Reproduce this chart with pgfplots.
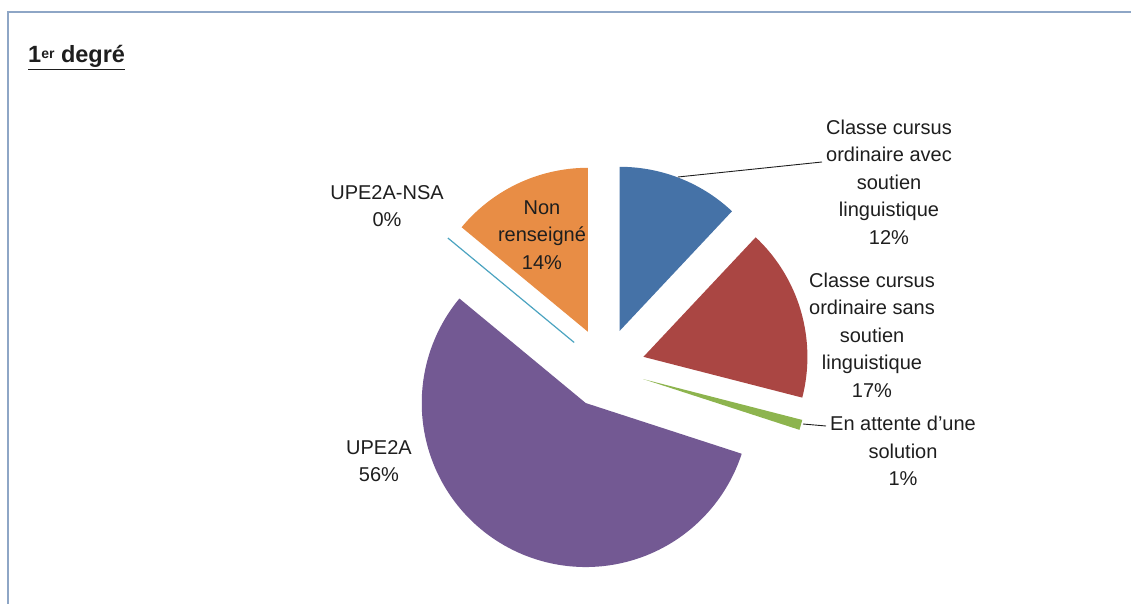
\documentclass[border=0pt]{standalone}
\usepackage{pgfplots}
\pgfplotsset{compat=1.18}
\usepackage{fontspec}
\setmainfont{Liberation Sans}
\definecolor{pblue}{HTML}{4572A7}
\definecolor{pred}{HTML}{AA4643}
\definecolor{pgreen}{HTML}{8DB44E}
\definecolor{ppurple}{HTML}{735993}
\definecolor{paqua}{HTML}{4BA3C0}
\definecolor{porange}{HTML}{E88D45}
\definecolor{frame}{HTML}{8EA6C6}
\definecolor{txt}{HTML}{1E1E1E}
\tikzset{lbl/.style={font=\fontsize{20}{27.5}\selectfont, text=txt, align=center, inner sep=0pt}}

% pie geometry (in pt = px)
\def\cx{605}\def\cy{236}\def\R{164}\def\E{40}
\gdef\curangle{90}
\newcommand\slice[2]{% #1 = percentage, #2 = colour
  \pgfmathsetmacro\aEnd{\curangle}%
  \pgfmathsetmacro\aStart{\curangle-3.6*#1}%
  \pgfmathsetmacro\aMid{(\aStart+\aEnd)/2}%
  \pgfmathsetmacro\ox{\cx+\E*cos(\aMid)}%
  \pgfmathsetmacro\oy{\cy+\E*sin(\aMid)}%
  \pgfmathparse{#1>0 ? 1 : 0}%
  \ifnum\pgfmathresult=1
    \edef\doplot{\noexpand\addplot[fill=#2, draw=none, domain=\aStart:\aEnd, samples=120]
      ({\ox+\R*cos(x)},{\oy+\R*sin(x)}) -- (axis cs:\ox,\oy) -- cycle;}%
  \else
    \edef\doplot{\noexpand\addplot[draw=#2, line width=1.2pt, domain=0:\R, samples=2]
      ({\ox+x*cos(\aMid)},{\oy+x*sin(\aMid)});}%
  \fi
  \doplot
  \xdef\curangle{\aStart}%
}

\begin{document}
\begin{tikzpicture}
\useasboundingbox (0,0) rectangle (1131pt,604pt);
\begin{axis}[at={(0,0)}, anchor=south west, x=1pt, y=1pt,
  xmin=0, xmax=1131, ymin=0, ymax=604, scale only axis, hide axis, clip=false]
  % frame
  \draw[frame, line width=1.2pt] (axis cs:8,0) -- (axis cs:8,592) -- (axis cs:1131,592);
  % slices, clockwise from 12 o'clock
  \slice{12}{pblue}
  \slice{17}{pred}
  \slice{1}{pgreen}
  \slice{56}{ppurple}
  \slice{0}{paqua}
  \slice{14}{porange}
  % leader lines
  \draw[txt, line width=0.9pt] (axis cs:678,427) -- (axis cs:822,442);
  \draw[txt, line width=0.9pt] (axis cs:803,180) -- (axis cs:826,178);
  % labels
  \node[lbl] at (axis cs:889,422) {Classe cursus\\ordinaire avec\\soutien\\linguistique\\12\%};
  \node[lbl] at (axis cs:872,269) {Classe cursus\\ordinaire sans\\soutien\\linguistique\\17\%};
  \node[lbl] at (axis cs:903,153) {En attente d'une\\solution\\1\%};
  \node[lbl] at (axis cs:387,398) {UPE2A-NSA\\0\%};
  \node[lbl] at (axis cs:379,143) {UPE2A\\56\%};
  \node[lbl] at (axis cs:542,369) {Non\\renseigné\\14\%};
  \node[anchor=base west, inner sep=0pt, text=txt, font=\fontsize{23.5}{26}\selectfont\bfseries] at (axis cs:28,541)
    {\underline{1{\fontsize{14}{14}\selectfont\raisebox{4pt}{er}} degré}};
\end{axis}
\end{tikzpicture}
\end{document}
